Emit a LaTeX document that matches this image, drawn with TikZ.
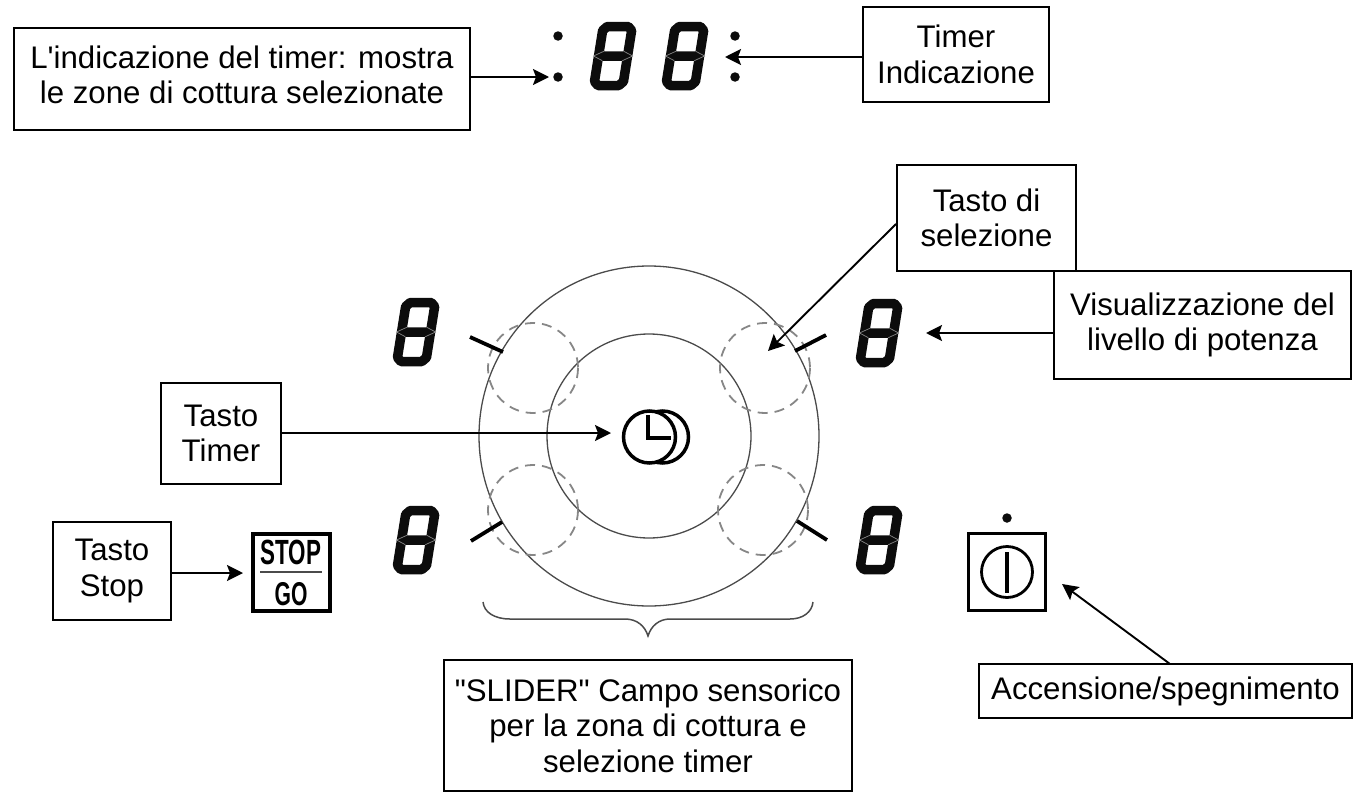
\documentclass[tikz,border=0pt]{standalone}
\usepackage{fontspec}
\setmainfont{Liberation Sans}[Ligatures=TeXOff]
\usetikzlibrary{arrows.meta}
\definecolor{Segment}{RGB}{12,12,12}
\definecolor{Ring}{RGB}{75,75,75}
\definecolor{Dashes}{RGB}{135,135,135}
\tikzset{
	pics/cifra/.style={code={
		\draw [Segment, line width=9.5pt, line join=round, xslant=.16]
			(8,4.5) -- (29,4.5) -- (33,8.5) -- (33,59.5) -- (29,63.5) -- (8,63.5) -- (4,59.5) -- (4,8.5) -- cycle
			(4,34) -- (33,34);
		\draw [Dashes, line width=.7pt, xslant=.16]
			(8.5,29.3) -- (-1,34) -- (8.5,38.7)
			(28.5,29.3) -- (38,34) -- (28.5,38.7);
	}}
}
\begin{document}
\begin{tikzpicture}[x=1pt, y=-1pt]
	\tikzstyle{tastobox}=[draw, line width=1.4pt, align=center, inner sep=0pt, font=\fontsize{31.2}{35.5}\selectfont];
	\tikzstyle{freccia}=[-{Stealth[length=16pt, width=16pt, inset=3pt]}, line width=1.9pt];
	\tikzstyle{tacca}=[line width=3.8pt];
	\tikzstyle{punto}=[fill=Segment, circle, inner sep=0pt, minimum size=9.5pt];
	\useasboundingbox (0,0) rectangle (1365,795);

	% ring and the dashed zones
	\draw [Ring, line width=1.3pt] (649,436) circle (170);
	\draw [Ring, line width=1.3pt] (649,436) circle (102);
	\draw [Dashes, dashed, dash pattern=on 10pt off 7pt, line width=1.8pt] (765,368) circle (45);
	\draw [Dashes, dashed, dash pattern=on 10pt off 7pt, line width=1.8pt] (533,368) circle (45);
	\draw [Dashes, dashed, dash pattern=on 10pt off 7pt, line width=1.8pt] (533,510) circle (45);
	\draw [Dashes, dashed, dash pattern=on 10pt off 7pt, line width=1.8pt] (763,510) circle (45);

	% digits
	\pic at (600,22) {cifra};
	\pic at (672,22) {cifra};
	\pic at (403,298) {cifra};
	\pic at (866,299) {cifra};
	\pic at (403,506) {cifra};
	\pic at (866,506) {cifra};

	\node [punto] (d1) at (558,36) {};
	\node [punto] (d2) at (558,77) {};
	\node [punto] (d3) at (735,36) {};
	\node [punto] (d4) at (735,77) {};

	% ticks
	\draw [tacca] (470,337) -- (503,352);
	\draw [tacca] (795,351) -- (826,335);
	\draw [tacca] (471,541) -- (502,522);
	\draw [tacca] (797,521) -- (827,540);

	% clock
	\draw [line width=3.5pt] (662.5,437) circle (26);
	\draw [line width=3.5pt, fill=white] (649.5,437) circle (26);
	\draw [line width=3.5pt] (648,415) -- (648,438) -- (671,438);

	% stop
	\node [draw, line width=4pt, minimum size=77pt, inner sep=0pt] (stopgo) at (291.5,572) {};
	\node [inner sep=0pt, xscale=.64, font=\fontsize{35}{35}\selectfont\bfseries] (stoptxt) at (291,552) {STOP};
	\node [inner sep=0pt, xscale=.64, font=\fontsize{33}{33}\selectfont\bfseries] (gotxt) at (291,594) {GO};
	\draw [Ring, line width=1.8pt] (260,572) -- (322,572);

	% power
	\node [draw, line width=3.5pt, minimum size=77pt, inner sep=0pt] (power) at (1007,572) {};
	\draw [line width=2.8pt] (1007,572) circle (25.5);
	\draw [line width=3.5pt] (1007,552) -- (1007,593);
	\node [punto] (d5) at (1007,518) {};

	% brace
	\draw [Ring, line width=1.5pt] (483,602) .. controls (484,612) and (494,619) .. (510,619) -- (625,619)
		.. controls (637,619) and (645,626) .. (648,636) .. controls (651,626) and (659,619) .. (670,619)
		-- (790,619) .. controls (803,619) and (812,612) .. (813,602);

	% text boxes
	\node [tastobox, minimum width=456pt, minimum height=102pt, text depth=9pt] (timerzone) at (242,79) {L'indicazione del timer: mostra\\le zone di cottura selezionate};
	\node [tastobox, minimum width=186pt, minimum height=95pt] (timerind) at (956,54.5) {Timer\\Indicazione};
	\node [tastobox, minimum width=179pt, minimum height=106pt] (selezione) at (986.5,218) {Tasto di\\selezione};
	\node [tastobox, minimum width=297pt, minimum height=108pt] (potenza) at (1202.5,325) {Visualizzazione del\\livello di potenza};
	\node [tastobox, minimum width=120pt, minimum height=101pt] (tastotimer) at (221,433.5) {Tasto\\Timer};
	\node [tastobox, minimum width=118pt, minimum height=98pt] (tastostop) at (112,571) {Tasto\\Stop};
	\node [tastobox, minimum width=408pt, minimum height=131pt] (slider) at (648,725.5) {"SLIDER" Campo sensorico\\per la zona di cottura e\\selezione timer};
	\node [tastobox, minimum width=373pt, minimum height=54pt] (accensione) at (1165.5,691) {Accensione/spegnimento};

	% arrow ends
	\coordinate (p1) at (549,77);
	\coordinate (p2) at (725,57);
	\coordinate (p3) at (768,351);
	\coordinate (p4) at (926,333);
	\coordinate (p5) at (611,433);
	\coordinate (p6) at (243,573);
	\coordinate (p7) at (1062,584);
	\coordinate (q3) at (896,224);
	\coordinate (q7) at (1170,664);

	\draw [freccia] (timerzone.east |- p1) -- (p1);
	\draw [freccia] (timerind.west |- p2) -- (p2);
	\draw [freccia] (q3) -- (p3);
	\draw [freccia] (potenza.west |- p4) -- (p4);
	\draw [freccia] (tastotimer.east |- p5) -- (p5);
	\draw [freccia] (tastostop.east |- p6) -- (p6);
	\draw [freccia] (q7) -- (p7);
\end{tikzpicture}
\end{document}
